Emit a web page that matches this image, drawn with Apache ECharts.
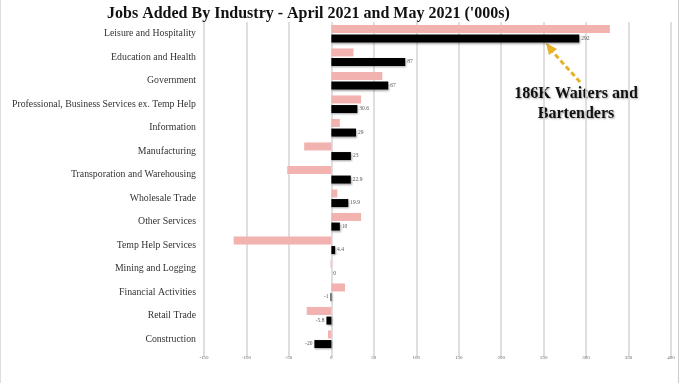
<!DOCTYPE html>
<html><head><meta charset="utf-8">
<script src="https://cdn.jsdelivr.net/npm/echarts@6/dist/echarts.min.js"></script>
<style>html,body{margin:0;padding:0;background:#fff}#c{width:680px;height:383px}</style>
</head><body><div id="c"></div>
<script>
const categories = ["Leisure and Hospitality","Education and Health","Government","Professional, Business Services ex. Temp Help","Information","Manufacturing","Transporation and Warehousing","Wholesale Trade","Other Services","Temp Help Services","Mining and Logging","Financial Activities","Retail Trade","Construction"];
const april2021 = [328, 26, 60, 35, 10, -32, -52, 7, 35, -115, -1, 16, -29, -4];
const may2021 = [292, 87, 67, 30.6, 29, 23, 22.9, 19.9, 10, 4.4, 0, -1, -5.8, -20];
const xTicks = [-150, -100, -50, 0, 50, 100, 150, 200, 250, 300, 350, 400];

const chart = echarts.init(document.getElementById('c'));
const serif = '"Liberation Serif", "DejaVu Serif", serif';
chart.setOption({
  animation: false,
  title: {text: "Jobs Added By Industry - April 2021 and May 2021 ('000s)", left: 102, top: 1,
    textStyle: {fontFamily: serif, fontSize: 16, fontWeight: 'bold', color: '#111'}},
  grid: {left: 204, right: 9, top: 22, bottom: 32},
  xAxis: {type: 'value', min: xTicks[0], max: xTicks[xTicks.length-1], interval: 50,
    axisLine: {show: false}, axisTick: {show: true, length: 6, lineStyle: {color: '#d4d4d4', width: 1.5}},
    splitLine: {lineStyle: {color: '#d4d4d4', width: 1.5}},
    axisLabel: {fontFamily: serif, fontSize: 5, color: '#666', margin: 4}},
  yAxis: {type: 'category', data: categories, inverse: true,
    axisLine: {show: false}, axisTick: {show: false},
    axisLabel: {fontFamily: serif, fontSize: 9.8, color: '#333', margin: 8, padding: [2, 0, 0, 0]}},
  series: [
    {name: 'April 2021', type: 'bar', data: april2021, barWidth: 8, barGap: '20%',
     itemStyle: {color: '#F1B2B0'}},
    {name: 'May 2021', type: 'bar', barWidth: 8, barGap: '20%',
     data: may2021.map(v => ({value: v, label: {position: v < 0 ? 'left' : 'right'}})),
     itemStyle: {color: '#000', shadowColor: 'rgba(0,0,0,0.35)', shadowBlur: 2, shadowOffsetX: 1, shadowOffsetY: 1},
     label: {show: true, fontFamily: serif, fontSize: 5.5, color: '#555', distance: 2,
       formatter: p => String(p.value)}}
  ],
  graphic: [
    {type: 'line', shape: {x1: 580, y1: 82, x2: 551, y2: 50},
     style: {stroke: '#E8B228', lineWidth: 3, lineDash: [5, 3]}},
    {type: 'polygon', shape: {points: [[546, 43], [557, 49], [549, 55]]}, style: {fill: '#E8B228'}},
    {type: 'text', x: 576, y: 84, style: {text: '186K Waiters and\nBartenders', align: 'center', verticalAlign: 'top',
      font: 'bold 16px ' + serif, fill: '#111', lineHeight: 20, textShadowColor: 'rgba(0,0,0,0.35)', textShadowBlur: 2, textShadowOffsetX: 1, textShadowOffsetY: 1}},
    {type: 'line', shape: {x1: 678.5, y1: 0, x2: 678.5, y2: 383}, style: {stroke: '#ccc', lineWidth: 1}},
    {type: 'line', shape: {x1: 0.5, y1: 0, x2: 0.5, y2: 383}, style: {stroke: '#ddd', lineWidth: 1}}
  ]
});
</script></body></html>
